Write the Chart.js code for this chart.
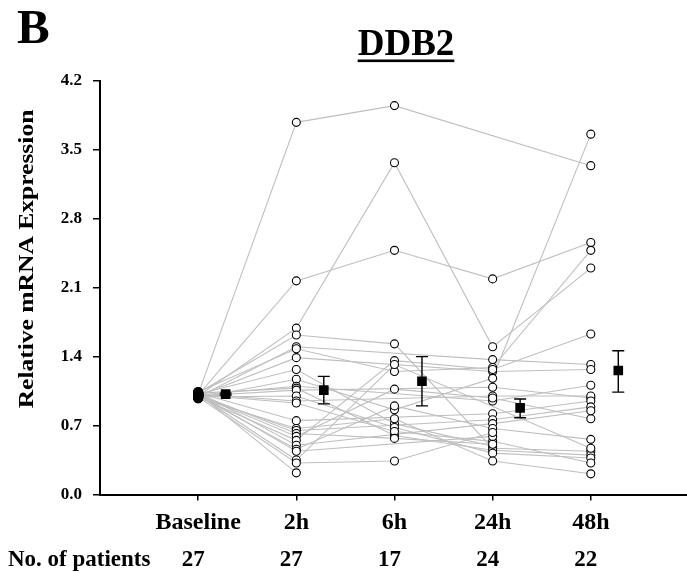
<!DOCTYPE html>
<html>
<head>
<meta charset="utf-8">
<script src="https://cdn.jsdelivr.net/npm/chart.js@4.4.1/dist/chart.umd.min.js"></script>
<style>
  html, body { margin: 0; padding: 0; background: #fff; }
  #wrap { width: 687px; height: 573px; }
</style>
</head>
<body>
<div id="wrap"><canvas id="c" width="687" height="573"></canvas></div>
<script>
// ---- data ----
const timepoints = ['Baseline', '2h', '6h', '24h', '48h'];
const patientCounts = [27, 27, 17, 24, 22];
const yTickValues = [0, 0.7, 1.4, 2.1, 2.8, 3.5, 4.2];

// each patient: [Baseline, 2h, 6h, 24h, 48h]  (null = not measured)
const patientValues = [
  [1.02, 3.78, 3.95, null, 3.34],
  [1.01, 2.17, 2.48, 2.19, 2.56],
  [1.00, 1.69, 3.37, 1.50, 2.30],
  [1.03, 1.62, 1.53, 0.47, 0.44],
  [0.99, 1.50, null, 1.37, 1.32],
  [1.04, 1.48, 1.25, 1.29, 2.48],
  [1.00, 1.39, null, 1.25, 1.27],
  [1.02, 1.27, 0.72, 0.49, null],
  [0.98, 1.17, 0.86, 1.18, 3.66],
  [1.01, 1.10, null, 0.95, 1.11],
  [1.03, 1.08, 0.60, 0.45, 0.40],
  [1.00, 1.06, null, 1.09, 0.98],
  [0.99, 1.00, 0.68, 0.42, 0.37],
  [1.02, 0.95, null, 1.00, 1.00],
  [1.01, 0.93, 0.64, 0.54, 0.32],
  [1.03, 0.75, null, 0.82, 0.95],
  [0.98, 0.67, 0.77, 0.34, 0.21],
  [1.00, 0.65, null, 0.76, 0.89],
  [1.02, 0.62, 0.57, 0.51, null],
  [1.01, 0.59, 1.07, 0.98, 0.77],
  [0.99, 0.55, 1.36, 1.27, 1.63],
  [1.04, 0.50, null, 0.72, 0.85],
  [1.00, 0.46, 0.90, 0.67, 0.56],
  [1.02, 0.44, null, 0.59, null],
  [1.01, 0.35, 1.32, null, 0.47],
  [0.99, 0.32, 0.34, 0.63, null],
  [1.03, 0.22, null, null, null]
];

const meanValues = [1.02, 1.06, 1.15, 0.88, 1.26];
const meanLow    = [1.01, 0.92, 0.90, 0.78, 1.04];
const meanHigh   = [1.03, 1.20, 1.40, 0.97, 1.46];
const meanOffset = 0.28;

// ---- build datasets ----
const FONT = "'Liberation Serif', 'Times New Roman', Times, serif";
const datasets = [];
const allPoints = [];
patientValues.forEach(row => {
  const pts = [];
  row.forEach((v, i) => { if (v !== null) { pts.push({x: i + 1, y: v}); allPoints.push({x: i + 1, y: v}); } });
  datasets.push({
    data: pts, showLine: true, borderColor: '#bfbfbf', borderWidth: 1.1,
    pointRadius: 0, pointHoverRadius: 0, order: 3
  });
});
datasets.push({
  data: allPoints, showLine: false, order: 2,
  pointRadius: ctx => (ctx.raw && ctx.raw.x === 1) ? 4.6 : 4,
  pointBackgroundColor: ctx => (ctx.raw && ctx.raw.x === 1) ? '#000' : '#fff',
  pointBorderColor: '#000', pointBorderWidth: 1.1
});
datasets.push({
  data: meanValues.map((v, i) => ({x: i + 1 + meanOffset, y: v})),
  showLine: false, order: 1, pointStyle: 'rect', pointRadius: 6.8,
  pointBackgroundColor: '#000', pointBorderColor: '#000', pointBorderWidth: 0
});

const decorPlugin = {
  id: 'decor',
  afterDatasetsDraw(chart) {
    const {ctx, scales: {x, y}} = chart;
    ctx.save();
    ctx.strokeStyle = '#000';
    ctx.lineWidth = 1.4;
    meanValues.forEach((m, i) => {
      const px = x.getPixelForValue(i + 1 + meanOffset);
      const yt = y.getPixelForValue(meanHigh[i]);
      const yb = y.getPixelForValue(meanLow[i]);
      ctx.beginPath();
      ctx.moveTo(px, yt); ctx.lineTo(px, yb);
      ctx.moveTo(px - 6, yt); ctx.lineTo(px + 6, yt);
      ctx.moveTo(px - 6, yb); ctx.lineTo(px + 6, yb);
      ctx.stroke();
    });
    ctx.restore();
  },
  afterDraw(chart) {
    const {ctx, scales: {x}} = chart;
    ctx.save();
    ctx.fillStyle = '#000';
    // panel letter
    ctx.font = 'bold 49px ' + FONT;
    ctx.textAlign = 'left'; ctx.textBaseline = 'alphabetic';
    ctx.fillText('B', 17, 43);
    // title with underline
    ctx.font = 'bold 37px ' + FONT;
    ctx.textAlign = 'center';
    const tx = 406;
    ctx.fillText('DDB2', tx, 55);
    const tw = ctx.measureText('DDB2').width;
    ctx.fillRect(tx - tw / 2, 59.5, tw, 2.6);
    // y-axis title
    ctx.save();
    ctx.translate(33, 259);
    ctx.rotate(-Math.PI / 2);
    ctx.scale(1.16, 1);
    ctx.font = 'bold 22px ' + FONT;
    ctx.textAlign = 'center';
    ctx.fillText('Relative mRNA Expression', 0, 0);
    ctx.restore();
    // patient counts row
    ctx.font = 'bold 23px ' + FONT;
    ctx.textAlign = 'left';
    ctx.fillText('No. of patients', 8, 566);
    ctx.textAlign = 'center';
    patientCounts.forEach((n, i) => {
      ctx.fillText(String(n), x.getPixelForValue(i + 1) - 5, 566);
    });
    ctx.restore();
  }
};

new Chart(document.getElementById('c'), {
  type: 'scatter',
  data: { datasets },
  plugins: [decorPlugin],
  options: {
    responsive: false,
    devicePixelRatio: 1,
    animation: false,
    events: [],
    layout: { autoPadding: false, padding: { top: 81, left: 0, right: 0, bottom: 0 } },
    plugins: { legend: { display: false }, tooltip: { enabled: false }, title: { display: false } },
    scales: {
      x: {
        type: 'linear', position: 'bottom', min: 0, max: 5.98,
        afterBuildTicks: s => { s.ticks = timepoints.map((_, i) => ({ value: i + 1 })); },
        afterFit: s => { s.height = 78.5; },
        ticks: {
          autoSkip: false, maxRotation: 0, padding: 8, color: '#000',
          font: { family: FONT, weight: 'bold', size: 24 },
          callback: v => timepoints[v - 1]
        },
        grid: { drawOnChartArea: false, drawTicks: true, tickLength: 6, color: '#000', lineWidth: 1.5 },
        border: { display: true, color: '#000', width: 2 }
      },
      y: {
        type: 'linear', min: 0, max: 4.2,
        afterBuildTicks: s => { s.ticks = yTickValues.map(v => ({ value: v })); },
        afterFit: s => { s.width = 100; },
        ticks: {
          padding: 11, color: '#000',
          font: { family: FONT, weight: 'bold', size: 17 },
          callback: v => Number(v).toFixed(1)
        },
        grid: { drawOnChartArea: false, drawTicks: true, tickLength: 7, color: '#000', lineWidth: 1.5 },
        border: { display: true, color: '#000', width: 2 }
      }
    }
  }
});
</script>
</body>
</html>
